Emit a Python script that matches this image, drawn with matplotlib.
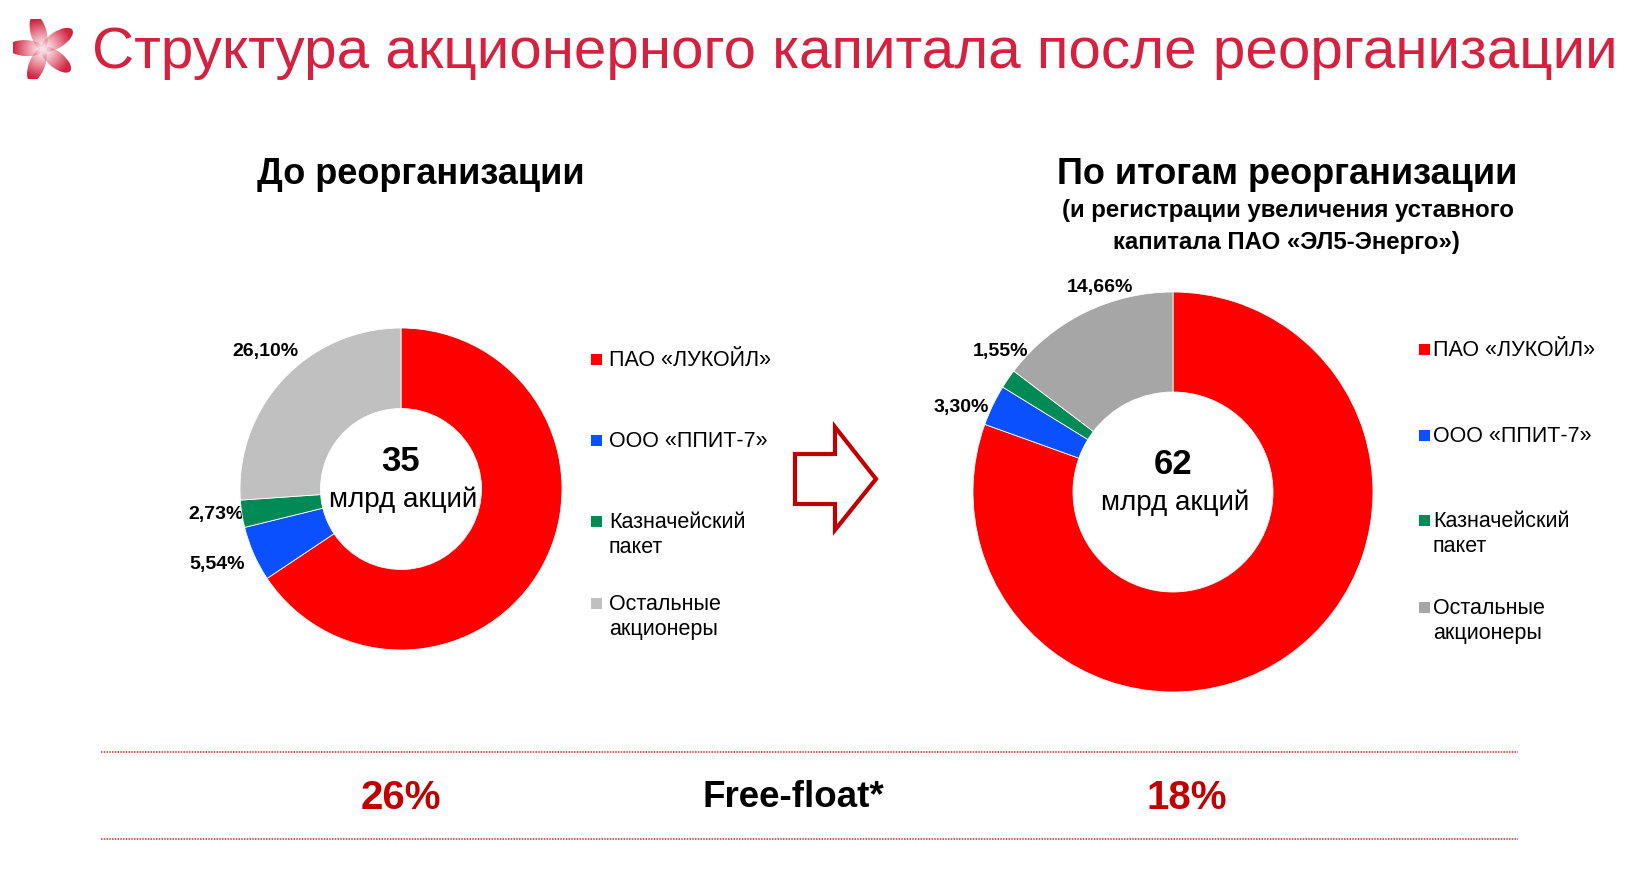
import numpy as np
import matplotlib
matplotlib.use('Agg')
import matplotlib.pyplot as plt
from matplotlib.patches import Polygon, Ellipse, Rectangle

plt.rcParams['font.family'] = ['Liberation Sans', 'DejaVu Sans']

# Données
categories = ['ПАО «ЛУКОЙЛ»', 'ООО «ППИТ-7»', 'Казначейский\nпакет', 'Остальные\nакционеры']
before_vals = [65.63, 5.54, 2.73, 26.10]
after_vals = [80.49, 3.30, 1.55, 14.66]
before_total = '35'
after_total = '62'
freefloat_before = '26%'
freefloat_after = '18%'

W, H = 1652, 870
RED = '#FF0000'
BLUE = '#0A50FF'
GREEN = '#008A55'
GREY_L = '#C0C0C0'
GREY_D = '#A6A6A6'
TITLE_C = '#D4213F'
DARKRED = '#C00000'

fig = plt.figure(figsize=(W / 100, H / 100), dpi=100)
bg = fig.add_axes([0, 0, 1, 1])
bg.set_xlim(0, W)
bg.set_ylim(H, 0)
bg.axis('off')

# Logo (fleur a cinq petales avec degrade)
lx, ly = 43, 50
yy, xx = np.mgrid[0:1:200j, 0:1:200j]
grad = np.sqrt((xx - 0.5) ** 2 + (yy - 0.5) ** 2) / 0.5
grad = np.clip(grad, 0, 1)
rgba = np.zeros((200, 200, 4))
rgba[..., 0] = 0.83
rgba[..., 1] = 0.13
rgba[..., 2] = 0.25
rgba[..., 3] = grad ** 1.1
for k in range(5):
    ang = np.deg2rad(90 + k * 72 + 15)
    cx = lx + 17 * np.cos(ang)
    cy = ly - 17 * np.sin(ang)
    pet = Ellipse((cx, cy), 36, 16, angle=-np.rad2deg(ang), transform=bg.transData,
                  facecolor='none', edgecolor='none')
    bg.add_patch(pet)
    im = bg.imshow(rgba, extent=(lx - 30, lx + 30, ly + 30, ly - 30), zorder=2)
    im.set_clip_path(pet)
bg.set_xlim(0, W)
bg.set_ylim(H, 0)

# Titres
bg.text(92, 53, 'Структура акционерного капитала после реорганизации', color=TITLE_C,
        fontsize=42, va='center', ha='left')
bg.text(421, 175, 'До реорганизации', fontsize=26, fontweight='bold', ha='center', va='center')
bg.text(1287, 175, 'По итогам реорганизации', fontsize=26, fontweight='bold', ha='center', va='center')
bg.text(1288, 210, '(и регистрации увеличения уставного', fontsize=17.3, fontweight='bold',
        ha='center', va='center')
bg.text(1286, 242, 'капитала ПАО «ЭЛ5-Энерго»)', fontsize=17.3, fontweight='bold',
        ha='center', va='center')


def donut(cx, cy, r, vals, colors, total, labels_pos):
    ax = fig.add_axes([(cx - r) / W, (H - cy - r) / H, 2 * r / W, 2 * r / H])
    ax.pie(vals, colors=colors, startangle=90, counterclock=False, radius=1,
           wedgeprops=dict(width=0.5, edgecolor='white', linewidth=0.6))
    ax.set_xlim(-1, 1)
    ax.set_ylim(-1, 1)
    ax.axis('off')
    bg.text(cx, cy - 28, total, fontsize=25, fontweight='bold', ha='center', va='center')
    bg.text(cx + 2, cy + 10, 'млрд акций', fontsize=20, ha='center', va='center')
    for v, (px, py) in zip(vals, labels_pos):
        bg.text(px, py, ('%.2f%%' % v).replace('.', ','), fontsize=14, fontweight='bold',
                ha='center', va='center')


donut(401, 490, 161, before_vals, [RED, BLUE, GREEN, GREY_L], before_total,
      [(493, 578), (217, 565), (216, 515), (265, 352)])
donut(1173, 493, 200, after_vals, [RED, BLUE, GREEN, GREY_D], after_total,
      [(1285, 604), (961, 408), (1000, 352), (1100, 288)])


def legend(sx, tx, ys, colors):
    for lab, y, c in zip(categories, ys, colors):
        bg.add_patch(Rectangle((sx - 5.5, y - 5.5), 11, 11, facecolor=c, edgecolor='none'))
        bg.text(tx, y - 10, lab, fontsize=15.5, ha='left', va='top', linespacing=1.25)


legend(596, 609, [360, 441, 522, 604], [RED, BLUE, GREEN, GREY_L])
legend(1424, 1433, [350, 436, 521, 608], [RED, BLUE, GREEN, GREY_D])

# Fleche
arrow = Polygon([(795, 455), (835, 455), (835, 428), (876, 480), (835, 531),
                 (835, 505), (795, 505)], closed=True, facecolor='white',
                edgecolor=DARKRED, linewidth=3, joinstyle='miter')
bg.add_patch(arrow)

# Free-float
for yl in (753, 840):
    bg.plot([101, 1518], [yl, yl], color='#E02828', linewidth=1.1, linestyle=(0, (1, 0.8)))
bg.text(401, 798, freefloat_before, fontsize=29, fontweight='bold', color=DARKRED,
        ha='center', va='center')
bg.text(793, 798, 'Free-float*', fontsize=26.5, fontweight='bold', color='black',
        ha='center', va='center')
bg.text(1187, 798, freefloat_after, fontsize=29, fontweight='bold', color=DARKRED,
        ha='center', va='center')

fig.savefig('out.png', dpi=100)
